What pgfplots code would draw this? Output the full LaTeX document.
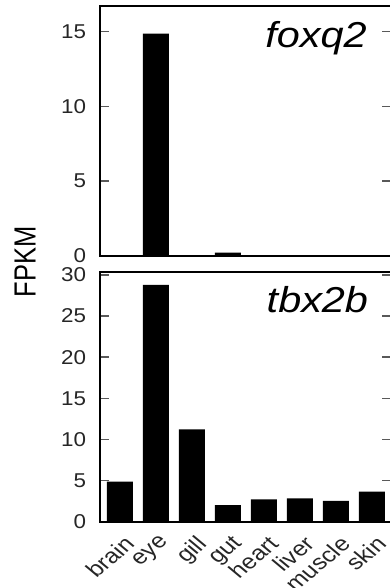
\documentclass[border=0pt]{standalone}
\usepackage{fontspec}
\setmainfont{Liberation Sans}
\usepackage{pgfplots}
\pgfplotsset{compat=1.18}
\begin{document}
\begin{tikzpicture}
\useasboundingbox (0pt,0pt) rectangle (390pt,-588pt);
\pgfplotsset{
  panel/.style={
    scale only axis, width=291pt, height=250pt, anchor=south west,
    xmin=-0.555, xmax=7.53, ymin=0,
    xtick={0,...,7}, xtick style={draw=none},
    ytick pos=both, tick align=inside,
    major tick length=9pt,
    ytick style={line width=1.5pt, draw=black!65},
    axis line style={line width=2pt},
    /pgf/number format/assume math mode=true,
    tick label style={font=\fontsize{20}{20}\selectfont, text=black!85},
    yticklabel style={xshift=-10pt, xscale=1.12},
    ybar, bar width=26pt, bar shift=0pt,
    clip=false,
  }
}
\begin{axis}[panel, at={(100pt,-256pt)}, ymax=16.7, ytick={0,5,10,15}, xticklabels={}]
\addplot[fill=black, draw=none] coordinates {(0,0) (1,14.85) (2,0) (3,0.22) (4,0) (5,0) (6,0) (7,0)};
\node[anchor=base east, xscale=1.15, font=\fontsize{36}{36}\selectfont\itshape] at (rel axis cs:0.93,0.833) {foxq2};
\end{axis}
\begin{axis}[panel, at={(100pt,-521.7pt)}, ymax=30.4, ytick={0,5,...,30},
  xticklabels={brain,eye,gill,gut,heart,liver,muscle,skin},
  xticklabel style={xshift=3pt, yshift=1pt, xscale=1.2, rotate=45, anchor=north east, font=\fontsize{21}{21}\selectfont}]
\addplot[fill=black, draw=none] coordinates {(0,4.87) (1,28.8) (2,11.24) (3,2.03) (4,2.72) (5,2.84) (6,2.52) (7,3.65)};
\node[anchor=base east, xscale=1.15, font=\fontsize{36}{36}\selectfont\itshape] at (rel axis cs:0.935,0.836) {tbx2b};
\end{axis}
\node[xscale=1.2, rotate=90, font=\fontsize{25.5}{25.5}\selectfont] at (25pt,-262pt) {FPKM};
\end{tikzpicture}
\end{document}
